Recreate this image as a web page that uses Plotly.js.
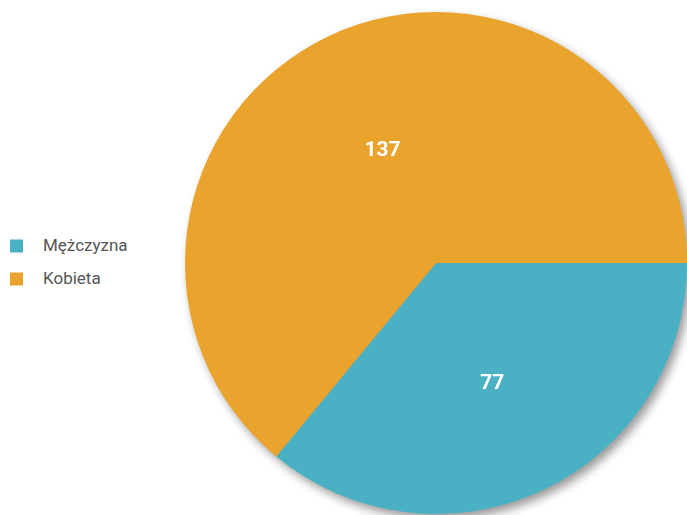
<!DOCTYPE html>
<html>
<head>
<meta charset="utf-8">
<script src="https://cdn.plot.ly/plotly-3.0.1.min.js"></script>
<style>
html,body{margin:0;padding:0;background:#fff;}
#chart{width:687px;height:515px;}
g.pielayer{filter:drop-shadow(4px 5px 5px rgba(0,0,0,0.4));}
</style>
</head>
<body>
<div id="chart"></div>
<script>
const labels = ["Mężczyzna", "Kobieta"];
const values = [77, 137];
const colors = ["#4AB0C4", "#EAA32C"];

const trace = {
  type: "pie",
  labels: labels,
  values: values,
  sort: false,
  direction: "clockwise",
  rotation: 90,
  marker: {colors: colors, line: {width: 0}},
  textinfo: "value",
  textposition: "inside",
  insidetextorientation: "horizontal",
  textfont: {family: "Roboto, sans-serif", size: 21, color: "#ffffff", weight: 700},
  hoverinfo: "label+value",
  showlegend: false,
  domain: {x: [185/687, 1], y: [1/515, 503/515]}
};

// legend drawn as squares + labels, one row per category
const shapes = [];
const annotations = [];
labels.forEach((lab, i) => {
  const yc = 246 + i * 33;
  shapes.push({
    type: "rect", xref: "paper", yref: "paper",
    x0: 10/687, x1: 23/687,
    y0: 1 - (yc + 6.5)/515, y1: 1 - (yc - 6.5)/515,
    fillcolor: colors[i], line: {width: 0}
  });
  annotations.push({
    xref: "paper", yref: "paper",
    x: 41/687, y: 1 - (yc - 1)/515,
    xanchor: "left", yanchor: "middle",
    text: lab, showarrow: false,
    font: {family: "Roboto, sans-serif", size: 17, color: "#555555"}
  });
});

const layout = {
  width: 687, height: 515,
  margin: {l: 0, r: 0, t: 0, b: 0},
  paper_bgcolor: "#ffffff",
  showlegend: false,
  shapes: shapes,
  annotations: annotations
};

Plotly.newPlot("chart", [trace], layout, {displayModeBar: false, staticPlot: true});
</script>
</body>
</html>
